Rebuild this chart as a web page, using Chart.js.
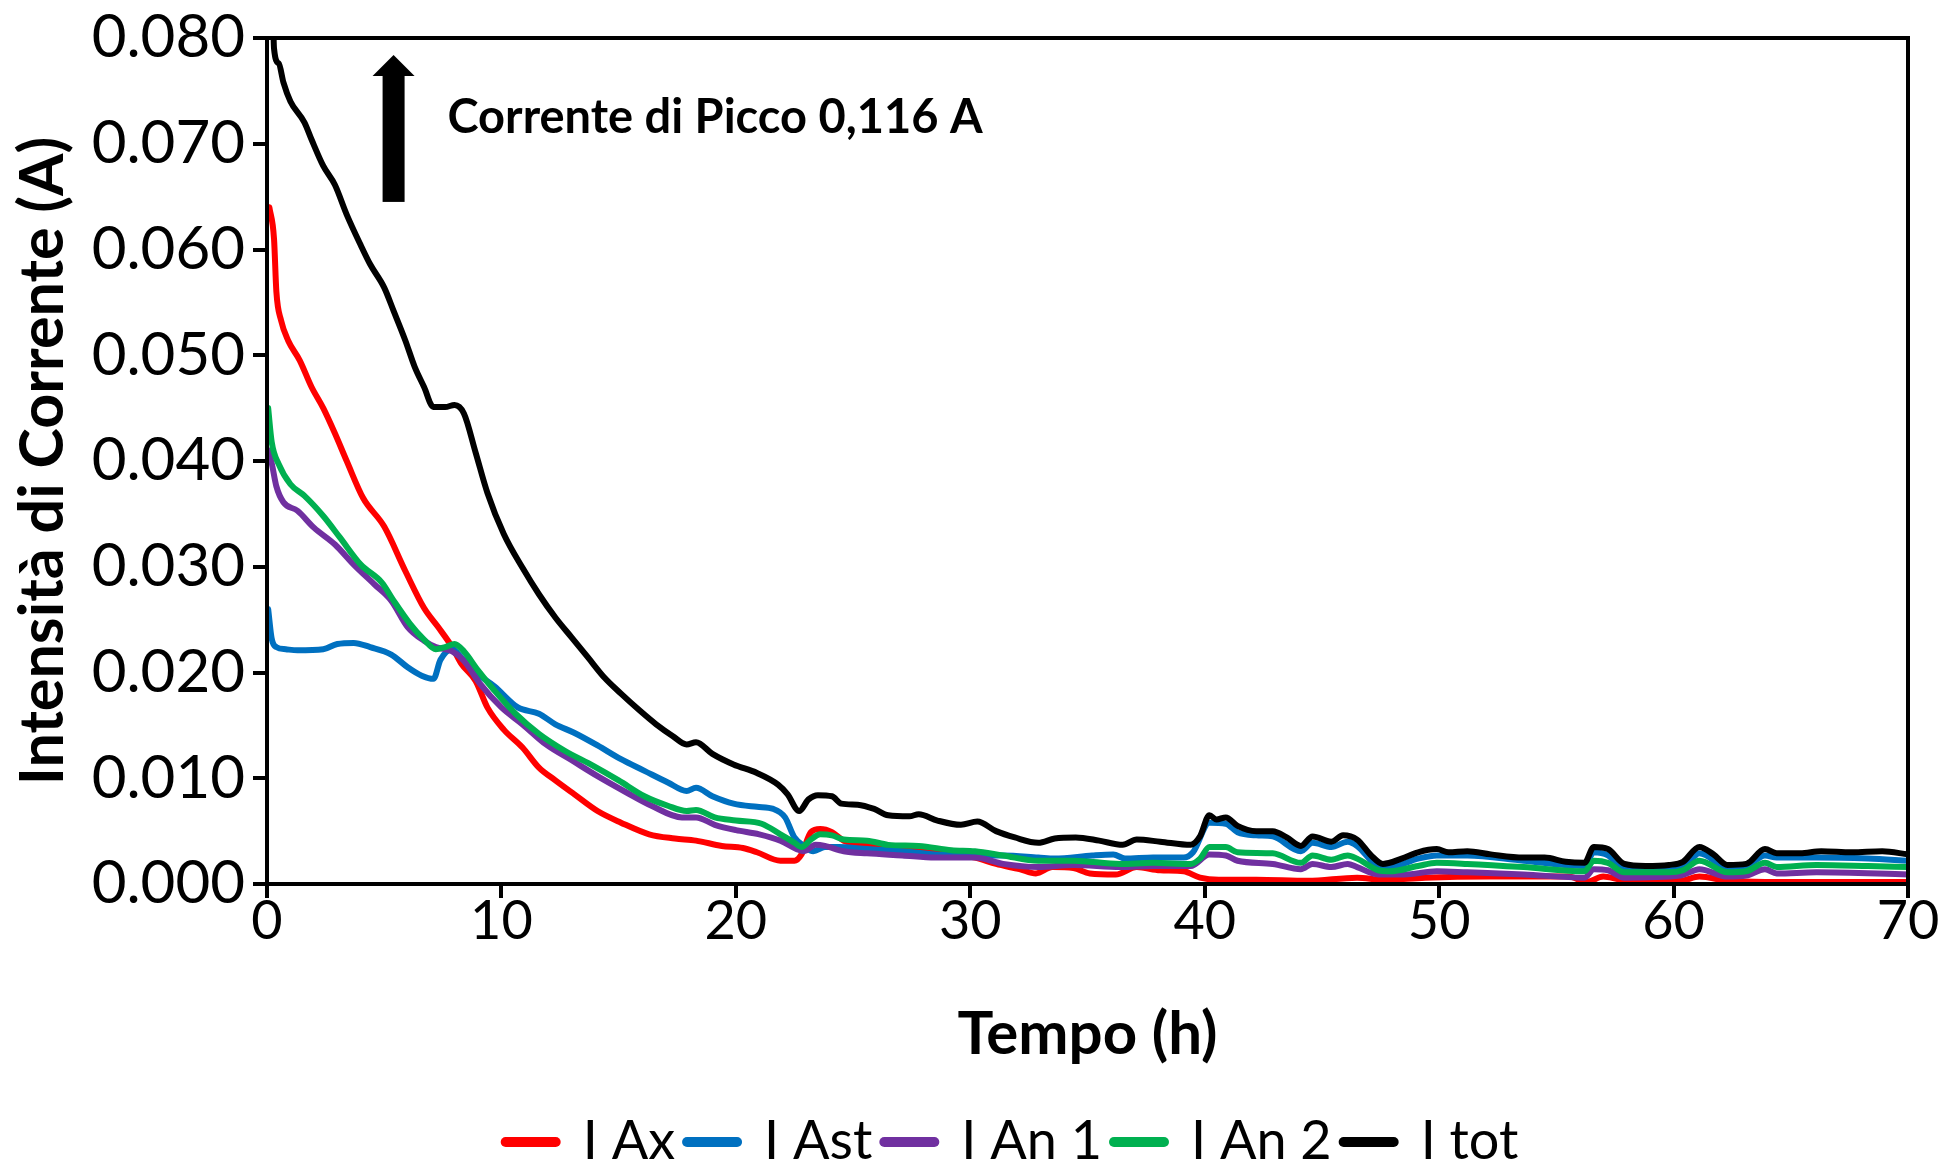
<!DOCTYPE html>
<html>
<head>
<meta charset="utf-8">
<title>Intensità di Corrente</title>
<script src="https://cdn.jsdelivr.net/npm/chart.js@4.4.1/dist/chart.umd.min.js"></script>
<style>
  html, body { margin: 0; padding: 0; background: #fff; }
  canvas { display: block; }
</style>
</head>
<body>
<canvas id="currentChart" width="1941" height="1169"></canvas>
<script>
// Each series: [tempo (h), corrente (A)]
const iAx = [
  [0.1, 0.064], [0.3, 0.061], [0.4, 0.056], [0.6, 0.0533], [0.9, 0.0514], [1.4, 0.0495],
  [1.9, 0.0470], [2.4, 0.0450], [2.9, 0.0426], [3.4, 0.0400], [4.1, 0.0365], [5.0, 0.0338],
  [5.9, 0.0296], [6.7, 0.0261], [7.3, 0.0243], [7.9, 0.0224], [8.3, 0.0208], [8.9, 0.0192],
  [9.4, 0.0167], [10.1, 0.0146], [10.9, 0.0129], [11.6, 0.0110], [12.3, 0.0098], [13.1, 0.0085],
  [14.1, 0.0069], [15.1, 0.0058], [16.3, 0.0047], [17.4, 0.0043], [18.3, 0.0041], [19.4, 0.0036],
  [20.3, 0.0034], [20.9, 0.0030], [21.9, 0.0022], [22.5, 0.0022], [22.8, 0.0028], [23.2, 0.0049],
  [23.6, 0.0052], [24.1, 0.0049], [24.6, 0.0041], [25.6, 0.0037], [26.5, 0.0035], [27.8, 0.0033],
  [29.2, 0.0028], [30.2, 0.0025], [31.1, 0.0019], [32.1, 0.0014], [32.8, 0.0010], [33.5, 0.0016],
  [34.4, 0.0015], [35.1, 0.0010], [36.2, 0.0009], [37.1, 0.0016], [38.1, 0.0013], [39.1, 0.0012],
  [39.8, 0.0006], [40.6, 0.0004], [42.2, 0.0004], [44.4, 0.0003], [46.5, 0.0006], [47.6, 0.0004],
  [49.4, 0.0006], [52.2, 0.0007], [55.5, 0.0007], [56.3, 0.0002], [57.0, 0.0007], [57.8, 0.0004],
  [60.3, 0.0003], [61.1, 0.0007], [62.3, 0.0003], [63.9, 0.0002], [70.0, 0.0002]
];

const iAst = [
  [0.05, 0.026], [0.2, 0.0232], [0.4, 0.0224], [0.8, 0.0222], [1.3, 0.0221], [2.4, 0.0222],
  [3.0, 0.0227], [3.7, 0.0228], [4.4, 0.0224], [5.3, 0.0217], [6.0, 0.0205], [6.6, 0.0197],
  [7.1, 0.0194], [7.4, 0.0212], [7.9, 0.0222], [8.3, 0.0214], [8.9, 0.0200], [9.7, 0.0187],
  [10.7, 0.0167], [11.6, 0.0161], [12.3, 0.0151], [13.1, 0.0143], [14.1, 0.0131], [15.1, 0.0118],
  [16.1, 0.0107], [17.1, 0.0096], [17.9, 0.0088], [18.3, 0.0091], [19.0, 0.0083], [19.9, 0.0076],
  [20.9, 0.0073], [21.6, 0.0071], [22.1, 0.0063], [22.5, 0.0044], [22.9, 0.0036], [23.3, 0.0031],
  [23.8, 0.0035], [24.4, 0.0035], [25.6, 0.0033], [27.1, 0.0031], [28.5, 0.0028], [30.2, 0.0027],
  [31.4, 0.0027], [32.9, 0.0025], [33.6, 0.0024], [35.2, 0.0027], [36.1, 0.0028], [36.6, 0.0024],
  [37.8, 0.0025], [39.1, 0.0025], [39.5, 0.0030], [40.2, 0.0058], [40.9, 0.0057], [41.4, 0.0049],
  [42.2, 0.0046], [42.9, 0.0045], [44.1, 0.0031], [44.6, 0.0039], [45.4, 0.0035], [46.1, 0.0040],
  [46.5, 0.0036], [47.4, 0.0017], [47.9, 0.0016], [49.1, 0.0024], [49.9, 0.0027], [51.2, 0.0027],
  [53.6, 0.0022], [56.2, 0.0017], [56.6, 0.0030], [57.2, 0.0027], [57.9, 0.0014], [59.8, 0.0014],
  [60.5, 0.0017], [61.1, 0.0029], [62.3, 0.0016], [63.1, 0.0017], [63.9, 0.0027], [64.4, 0.0025],
  [66.1, 0.0025], [68.3, 0.0024], [70.0, 0.0022]
];

const iAn1 = [
  [0.05, 0.041], [0.2, 0.0398], [0.4, 0.0376], [0.7, 0.0361], [1.3, 0.0353], [2.0, 0.0337],
  [2.9, 0.0321], [3.7, 0.0302], [4.6, 0.0283], [5.3, 0.0268], [6.0, 0.0243], [6.7, 0.0230],
  [7.2, 0.0224], [7.9, 0.0220], [8.4, 0.0211], [9.1, 0.0189], [10.0, 0.0167], [10.9, 0.0151],
  [11.9, 0.0132], [13.0, 0.0117], [14.1, 0.0102], [15.3, 0.0087], [16.4, 0.0074], [17.7, 0.0063],
  [18.3, 0.0063], [19.1, 0.0056], [20.0, 0.0051], [21.0, 0.0047], [21.9, 0.0041], [22.6, 0.0033],
  [22.9, 0.0031], [23.4, 0.0037], [23.8, 0.0036], [24.6, 0.0031], [25.6, 0.0029], [27.1, 0.0027],
  [28.5, 0.0025], [30.2, 0.0025], [31.4, 0.0019], [32.9, 0.0016], [34.4, 0.0018], [36.4, 0.0016],
  [37.8, 0.0017], [39.4, 0.0017], [40.2, 0.0028], [40.9, 0.0027], [41.4, 0.0022], [42.9, 0.0019],
  [44.1, 0.0014], [44.6, 0.0019], [45.4, 0.0016], [46.1, 0.0019], [46.5, 0.0016], [47.4, 0.0009],
  [48.5, 0.0009], [49.9, 0.0012], [51.2, 0.0011], [53.6, 0.0009], [56.2, 0.0006], [56.6, 0.0014],
  [57.2, 0.0013], [57.9, 0.0006], [60.3, 0.0008], [61.1, 0.0014], [62.3, 0.0007], [63.1, 0.0008],
  [63.9, 0.0014], [64.4, 0.0010], [66.1, 0.0011], [70.0, 0.0009]
];

const iAn2 = [
  [0.05, 0.045], [0.2, 0.0418], [0.5, 0.0397], [1.0, 0.0378], [1.6, 0.0367], [2.4, 0.0348],
  [3.1, 0.0328], [4.0, 0.0302], [4.9, 0.0285], [5.4, 0.0268], [6.1, 0.0246], [6.7, 0.0231],
  [7.2, 0.0222], [7.6, 0.0224], [8.0, 0.0227], [8.4, 0.0220], [9.0, 0.0202], [9.7, 0.0183],
  [10.6, 0.0161], [11.6, 0.0142], [12.7, 0.0126], [13.9, 0.0112], [15.0, 0.0098], [16.1, 0.0083],
  [17.1, 0.0074], [17.9, 0.0069], [18.3, 0.0070], [19.1, 0.0063], [20.0, 0.0060], [21.1, 0.0057],
  [21.9, 0.0047], [22.5, 0.0039], [22.8, 0.0035], [23.2, 0.0042], [23.6, 0.0047], [24.1, 0.0046],
  [24.6, 0.0042], [25.6, 0.0041], [26.5, 0.0037], [27.8, 0.0036], [29.2, 0.0032], [30.2, 0.0031],
  [31.4, 0.0027], [32.9, 0.0022], [34.4, 0.0022], [36.4, 0.0019], [37.8, 0.0020], [39.4, 0.0019],
  [39.8, 0.0024], [40.2, 0.0035], [40.9, 0.0035], [41.4, 0.0030], [42.9, 0.0029], [44.1, 0.0020],
  [44.6, 0.0027], [45.4, 0.0023], [46.1, 0.0027], [46.5, 0.0024], [47.4, 0.0013], [47.9, 0.0012],
  [49.1, 0.0017], [49.9, 0.0020], [51.2, 0.0019], [53.6, 0.0016], [56.2, 0.0012], [56.6, 0.0022],
  [57.2, 0.0020], [57.9, 0.0011], [59.8, 0.0011], [60.4, 0.0013], [61.1, 0.0022], [62.3, 0.0011],
  [63.1, 0.0012], [63.9, 0.0020], [64.4, 0.0016], [66.1, 0.0018], [68.3, 0.0017], [70.0, 0.0016]
];

const iTot = [
  [0.1, 0.116], [0.3, 0.0790], [0.5, 0.0776], [0.7, 0.0758], [1.0, 0.0740], [1.6, 0.0720],
  [1.9, 0.0704], [2.4, 0.0679], [2.9, 0.0661], [3.4, 0.0633], [4.0, 0.0604], [4.4, 0.0586],
  [5.0, 0.0564], [5.4, 0.0542], [5.9, 0.0514], [6.3, 0.0489], [6.7, 0.0470], [7.1, 0.0451],
  [7.6, 0.0451], [8.0, 0.0453], [8.4, 0.0445], [8.9, 0.0408], [9.4, 0.0370], [10.1, 0.0331],
  [10.9, 0.0299], [11.6, 0.0274], [12.3, 0.0252], [13.0, 0.0233], [13.7, 0.0214], [14.4, 0.0195],
  [15.1, 0.0180], [15.9, 0.0164], [16.6, 0.0151], [17.3, 0.0140], [17.9, 0.0132], [18.3, 0.0134],
  [19.0, 0.0123], [19.9, 0.0113], [20.9, 0.0105], [21.8, 0.0094], [22.2, 0.0085], [22.7, 0.0069],
  [23.1, 0.0080], [23.5, 0.0084], [24.1, 0.0083], [24.5, 0.0076], [25.2, 0.0075], [25.9, 0.0071],
  [26.5, 0.0065], [27.4, 0.0064], [27.8, 0.0066], [28.6, 0.0060], [29.6, 0.0056], [30.3, 0.0059],
  [31.1, 0.0050], [31.9, 0.0044], [32.9, 0.0039], [33.6, 0.0043], [34.5, 0.0044], [35.5, 0.0041],
  [36.5, 0.0037], [37.1, 0.0042], [38.1, 0.0040], [39.4, 0.0037], [39.8, 0.0045], [40.2, 0.0065],
  [40.5, 0.0061], [40.9, 0.0063], [41.4, 0.0055], [42.2, 0.0050], [42.9, 0.0050], [43.5, 0.0044],
  [44.1, 0.0036], [44.6, 0.0045], [45.4, 0.0040], [45.9, 0.0046], [46.5, 0.0042], [47.1, 0.0027],
  [47.6, 0.0019], [48.4, 0.0024], [49.1, 0.0030], [49.9, 0.0033], [50.4, 0.0030], [51.2, 0.0031],
  [52.2, 0.0028], [53.6, 0.0025], [54.5, 0.0025], [55.4, 0.0021], [56.2, 0.0020], [56.6, 0.0035],
  [57.2, 0.0033], [57.9, 0.0019], [58.8, 0.0017], [59.8, 0.0018], [60.4, 0.0021], [61.1, 0.0035],
  [61.7, 0.0028], [62.3, 0.0018], [63.1, 0.0019], [63.9, 0.0033], [64.4, 0.0029], [65.4, 0.0029],
  [66.3, 0.0031], [67.6, 0.0030], [68.9, 0.0031], [70.0, 0.0028]
];

const seriesNames = ['I Ax', 'I Ast', 'I An 1', 'I An 2', 'I tot'];
const seriesData = [iAx, iAst, iAn1, iAn2, iTot];
const seriesColors = ['#FF0000', '#0070C0', '#7030A0', '#00B050', '#000000'];

const xTitle = 'Tempo (h)';
const yTitle = 'Intensità di Corrente (A)';
const peakNote = 'Corrente di Picco 0,116 A';

// arrow + note position, in data units
const arrowT = 5.4;
const arrowTail = 0.0645;
const arrowHeadBase = 0.0764;
const arrowTip = 0.0784;
const noteT = 7.7;
const noteI = 0.0710;

const FONT = 'Lato';

// box round the plot area
const frameBox = {
  id: 'frameBox',
  afterDatasetsDraw(chart) {
    const { ctx, chartArea: a } = chart;
    ctx.save();
    ctx.strokeStyle = '#000';
    ctx.lineWidth = 4;
    ctx.strokeRect(a.left, a.top, a.right - a.left, a.bottom - a.top);
    ctx.restore();
  }
};

// legend row in the original is centred a bit right of the page centre
const legendShift = {
  id: 'legendShift',
  afterLayout(chart) {
    if (chart.legend) chart.legend.left = 116;
  }
};

// the "peak current" arrow and its note
const peakArrow = {
  id: 'peakArrow',
  afterDraw(chart) {
    const { ctx, scales: { x, y } } = chart;
    const ax = x.getPixelForValue(arrowT);
    const yTip = y.getPixelForValue(arrowTip);
    const yBase = y.getPixelForValue(arrowHeadBase);
    const yEnd = y.getPixelForValue(arrowTail);
    ctx.save();
    ctx.fillStyle = '#000';
    ctx.fillRect(ax - 11, yBase - 1, 22, yEnd - yBase + 1);
    ctx.beginPath();
    ctx.moveTo(ax, yTip);
    ctx.lineTo(ax + 21, yBase);
    ctx.lineTo(ax - 21, yBase);
    ctx.closePath();
    ctx.fill();
    ctx.font = 'bold 47px ' + FONT;
    ctx.textBaseline = 'alphabetic';
    ctx.textAlign = 'left';
    ctx.fillText(peakNote, x.getPixelForValue(noteT), y.getPixelForValue(noteI));
    ctx.restore();
  }
};

const datasets = seriesData.map((s, i) => ({
  label: seriesNames[i],
  data: s.map(([t, v]) => ({ x: t, y: v })),
  borderColor: seriesColors[i],
  backgroundColor: seriesColors[i],
  borderWidth: 6,
  borderCapStyle: 'round',
  borderJoinStyle: 'round',
  pointRadius: 0,
  fill: false,
  cubicInterpolationMode: 'monotone',
  order: seriesNames.length - i   // later series on top, like the original
}));

const currentChart = new Chart(document.getElementById('currentChart'), {
  type: 'line',
  data: { datasets },
  options: {
    responsive: false,
    animation: false,
    devicePixelRatio: 1,
    layout: { padding: { top: 34, right: 33, bottom: -10, left: 0 } },
    plugins: {
      tooltip: { enabled: false },
      legend: {
        position: 'bottom',
        labels: {
          usePointStyle: true,
          pointStyle: 'line',
          pointStyleWidth: 50,
          padding: 12,
          color: '#000',
          font: { family: FONT, size: 54 },
          sort: (a, b) => a.datasetIndex - b.datasetIndex,
          generateLabels(chart) {
            const items = Chart.defaults.plugins.legend.labels.generateLabels(chart);
            items.forEach(it => { it.lineWidth = 10; it.lineCap = 'round'; });
            return items;
          }
        }
      }
    },
    scales: {
      x: {
        type: 'linear',
        min: 0,
        max: 70,
        ticks: {
          stepSize: 10,
          autoSkip: false,
          maxRotation: 0,
          padding: -3,
          color: '#000',
          font: { family: FONT, size: 54, lineHeight: 1 }
        },
        grid: { drawOnChartArea: false, color: '#000', lineWidth: 4, tickLength: 14 },
        border: { color: '#000', width: 4 },
        title: {
          display: true,
          text: xTitle,
          color: '#000',
          font: { family: FONT, size: 60, weight: 'bold' },
          padding: { top: 0, bottom: 32 }
        },
        afterFit(scale) { scale.height = 219; }
      },
      y: {
        min: 0,
        max: 0.08,
        ticks: {
          stepSize: 0.01,
          padding: 8,
          color: '#000',
          font: { family: FONT, size: 60, lineHeight: 1 },
          callback: v => v.toFixed(3)
        },
        grid: { drawOnChartArea: false, color: '#000', lineWidth: 4, tickLength: 14 },
        border: { color: '#000', width: 4 },
        title: {
          display: true,
          text: yTitle,
          color: '#000',
          font: { family: FONT, size: 61, weight: 'bold' },
          padding: { top: 7, bottom: 0 }
        },
        afterFit(scale) { scale.width = 267; }
      }
    }
  },
  plugins: [frameBox, legendShift, peakArrow]
});
</script>
</body>
</html>
